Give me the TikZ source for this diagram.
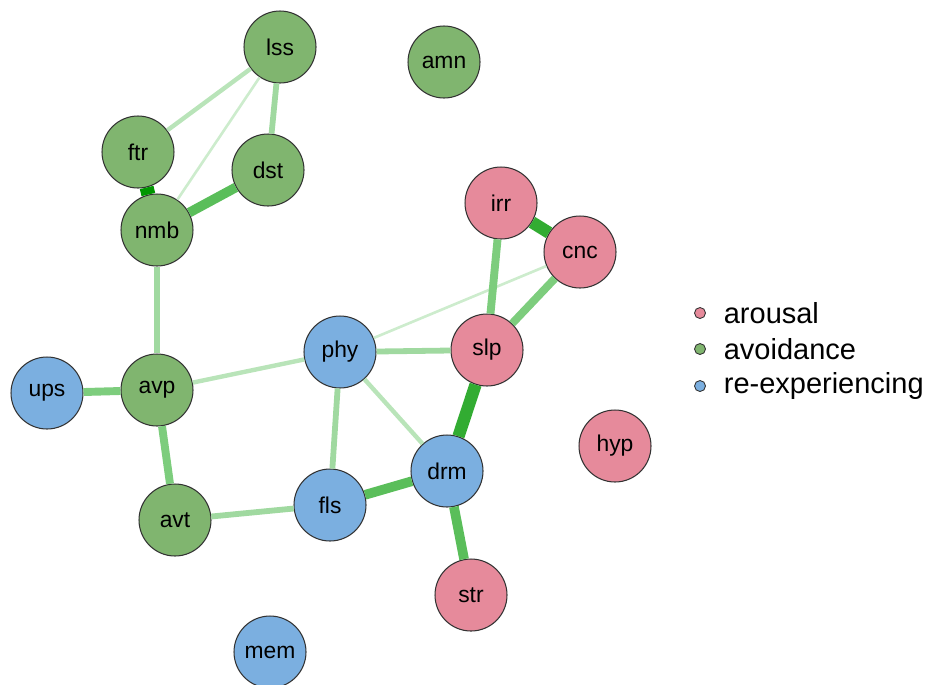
\documentclass[tikz,border=0pt]{standalone}
\usepackage{xcolor}
\usepackage{fontspec}
\setmainfont{Liberation Sans}
\usepackage{tikz}
\usetikzlibrary{positioning}
\definecolor{arogreen}{RGB}{128, 181, 111}
\definecolor{aropink}{RGB}{230, 138, 155}
\definecolor{aroblue}{RGB}{123, 175, 224}
\definecolor{edgeA}{RGB}{205, 236, 205}
\definecolor{edgeB}{RGB}{185, 228, 185}
\definecolor{edgeC}{RGB}{160, 217, 160}
\definecolor{edgeD}{RGB}{125, 205, 125}
\definecolor{edgeE}{RGB}{90, 190, 90}
\definecolor{edgeF}{RGB}{50, 172, 50}
\definecolor{edgeG}{RGB}{0, 150, 0}

\begin{document}
\begin{tikzpicture}[x=0.02cm, y=-0.02cm,
  sym/.style={circle, draw=black!80, line width=0.6pt, minimum size=1.44cm, inner sep=0pt, font=\fontsize{13}{15}\selectfont},
  avo/.style={sym, fill=arogreen},
  aro/.style={sym, fill=aropink},
  rex/.style={sym, fill=aroblue},
  wa/.style={draw=edgeA, line width=1.5pt},
  wb/.style={draw=edgeB, line width=2.5pt},
  wc/.style={draw=edgeC, line width=3.3pt},
  wd/.style={draw=edgeD, line width=4.5pt},
  we/.style={draw=edgeE, line width=5.5pt},
  wf/.style={draw=edgeF, line width=7pt},
  wg/.style={draw=edgeG, line width=8pt},
  dot/.style={circle, draw=black!80, line width=0.5pt, minimum size=0.22cm, inner sep=0pt},
  lab/.style={right, font=\fontsize{16.5}{18}\selectfont, inner sep=0pt}]
\useasboundingbox (0,0) rectangle (935,684);

% avoidance
\node[avo] (lss) at (280,47) {lss};
\node[avo] (amn) at (444,62) {amn};
\node[avo] (ftr) at (138,152) {ftr};
\node[avo] (dst) at (268,170) {dst};
\node[avo] (nmb) at (157,230) {nmb};
\node[avo] (avp) at (157,390) {avp};
\node[avo] (avt) at (175,520) {avt};

% arousal
\node[aro] (irr) at (501,203) {irr};
\node[aro] (cnc) at (580,252) {cnc};
\node[aro] (slp) at (487,350) {slp};
\node[aro] (hyp) at (615,446) {hyp};
\node[aro] (str) at (471,595) {str};

% re-experiencing
\node[rex] (phy) at (340,352) {phy};
\node[rex] (ups) at (47,393) {ups};
\node[rex] (drm) at (447,471) {drm};
\node[rex] (fls) at (330,505) {fls};
\node[rex] (mem) at (270,652) {mem};

% edges
\draw[wa] (lss) -- (nmb);
\draw[wa] (phy) -- (cnc);
\draw[wb] (lss) -- (ftr);
\draw[wb] (avp) -- (phy);
\draw[wb] (phy) -- (drm);
\draw[wc] (lss) -- (dst);
\draw[wc] (nmb) -- (avp);
\draw[wc] (phy) -- (slp);
\draw[wc] (fls) -- (phy);
\draw[wc] (avt) -- (fls);
\draw[wd] (ups) -- (avp);
\draw[wd] (avp) -- (avt);
\draw[wd] (slp) -- (irr);
\draw[wd] (slp) -- (cnc);
\draw[we] (nmb) -- (dst);
\draw[we] (drm) -- (str);
\draw[we] (fls) -- (drm);
\draw[wf] (irr) -- (cnc);
\draw[wf] (slp) -- (drm);
\draw[wg] (ftr) -- (nmb);

% legend
\node[dot, fill=aropink] (dotaro) at (700,313) {};
\node[dot, fill=arogreen] (dotavo) at (700,349) {};
\node[dot, fill=aroblue] (dotrex) at (700,386) {};
\node[lab, right=10pt of dotaro] (labaro) {arousal};
\node[lab, right=10pt of dotavo] (labavo) {avoidance};
\node[lab, right=10pt of dotrex] (labrex) {re-experiencing};
\end{tikzpicture}
\end{document}
